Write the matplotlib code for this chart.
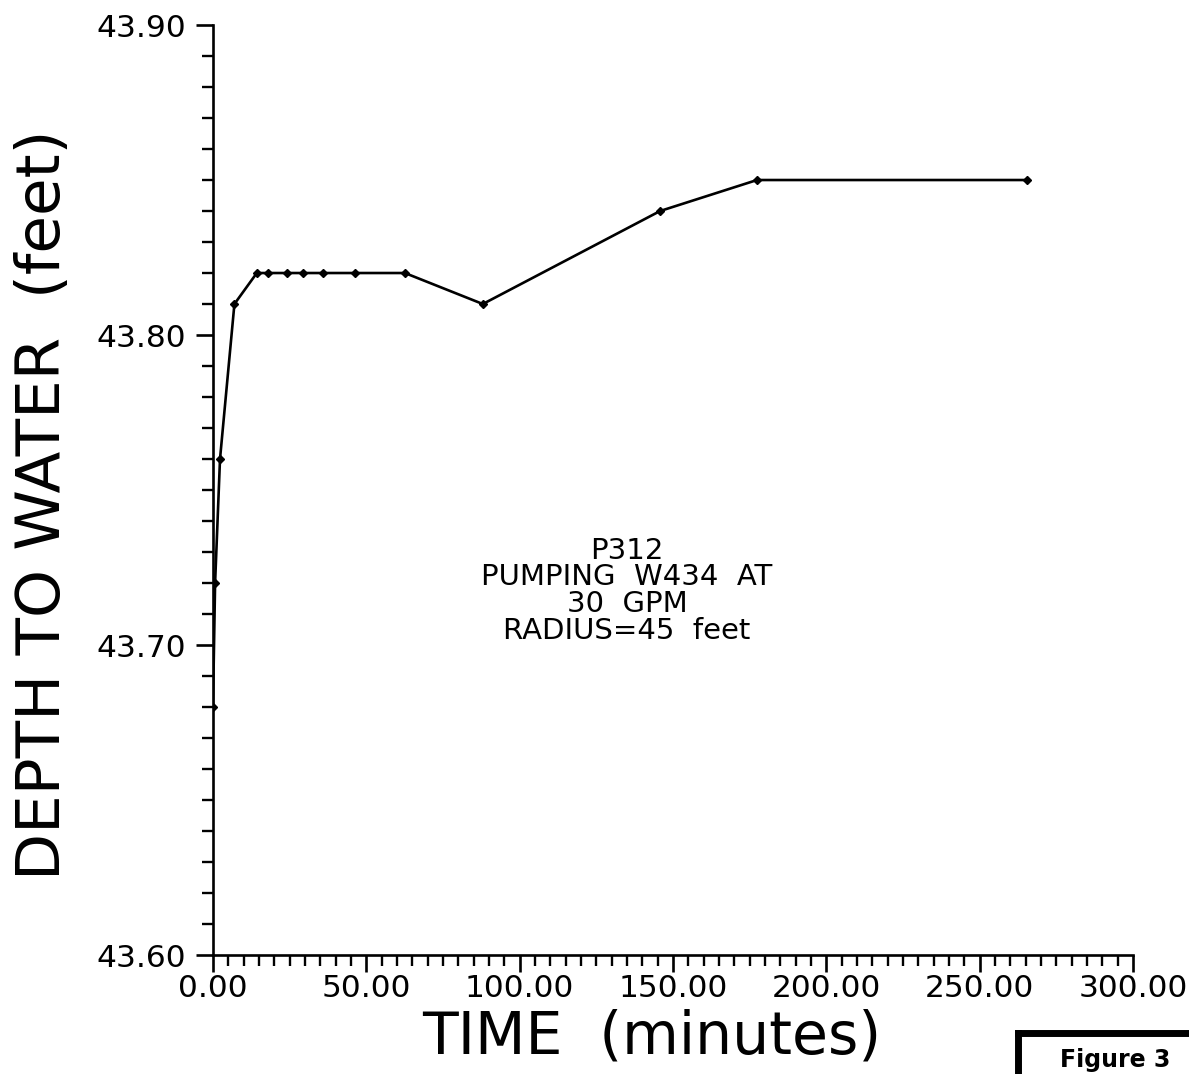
import matplotlib

matplotlib.use("Agg")
import matplotlib.pyplot as plt
from matplotlib.lines import Line2D
from matplotlib.ticker import MultipleLocator

# drawdown readings for observation well P312
time_min = [0.0, 0.7, 2.3, 7.0, 14.3, 18.0, 24.0, 29.3, 36.0, 46.3, 62.6,
            88.0, 145.8, 177.4, 265.4]
depth_ft = [43.68, 43.72, 43.76, 43.81, 43.82, 43.82, 43.82, 43.82, 43.82,
            43.82, 43.82, 43.81, 43.84, 43.85, 43.85]

x_ticks = [0, 50, 100, 150, 200, 250, 300]
y_ticks = [43.60, 43.70, 43.80, 43.90]
note_lines = ["P312", "PUMPING  W434  AT", "30  GPM", "RADIUS=45  feet"]

plt.rcParams["font.family"] = "DejaVu Sans"

fig = plt.figure(figsize=(11.89, 10.74), dpi=100)
ax = fig.add_axes([0.1791, 0.1108, 0.7738, 0.8659])

ax.plot(time_min, depth_ft, color="black", lw=1.9, marker="D", ms=4.5,
        mec="black", mfc="black")

ax.set_xlim(0, 300)
ax.set_ylim(43.60, 43.90)
ax.set_xticks(x_ticks)
ax.set_xticklabels([f"{v:.2f}" for v in x_ticks])
ax.set_yticks(y_ticks)
ax.set_yticklabels([f"{v:.2f}" for v in y_ticks])
ax.xaxis.set_minor_locator(MultipleLocator(5))
ax.yaxis.set_minor_locator(MultipleLocator(0.01))

for side in ("top", "right"):
    ax.spines[side].set_visible(False)
for side in ("left", "bottom"):
    ax.spines[side].set_linewidth(1.9)

ax.tick_params(which="major", direction="out", length=12, width=1.9,
               labelsize=22.5, pad=2, colors="black")
ax.tick_params(axis="y", which="major", pad=7)
ax.tick_params(which="minor", direction="out", length=8, width=1.7)

ax.set_xlabel("TIME  (minutes)", fontsize=42, va="top")
ax.set_ylabel("DEPTH TO WATER  (feet)", fontsize=44)
ax.yaxis.set_label_coords(-0.152, 0.484)
ax.xaxis.set_label_coords(0.477, -0.058)

ax.text(135, 43.735, "\n".join(note_lines), ha="center", va="top",
        fontsize=21, linespacing=0.95)

# cropped "Figure 3" frame in the bottom-right corner
fig.add_artist(Line2D([1018 / 1189, 1.0], [1 - 1033 / 1074, 1 - 1033 / 1074],
                      transform=fig.transFigure, color="black", lw=5))
fig.add_artist(Line2D([1018 / 1189, 1018 / 1189], [1 - 1033 / 1074, 0.0],
                      transform=fig.transFigure, color="black", lw=5))
fig.text(1060 / 1189, 2 / 1074, "Figure 3", fontsize=17,
         fontweight="bold", va="bottom", ha="left")

fig.savefig("out.png", dpi=100)
